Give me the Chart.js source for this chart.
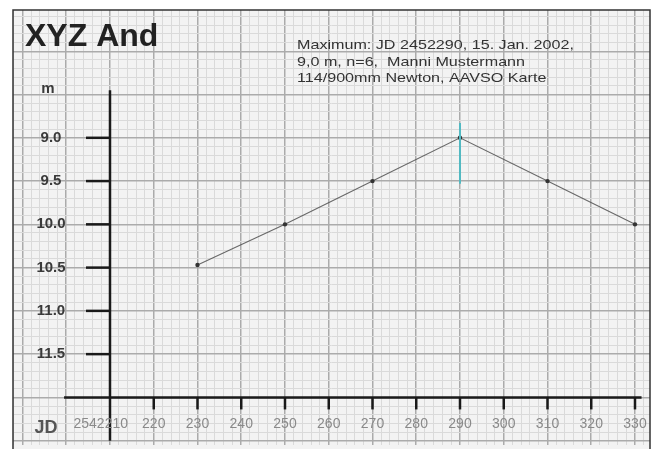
<!DOCTYPE html>
<html>
<head>
<meta charset="utf-8">
<script src="https://cdn.jsdelivr.net/npm/chart.js@4"></script>
<style>
  html, body { margin: 0; padding: 0; background: #ffffff; }
  canvas { display: block; }
</style>
</head>
<body>
<canvas id="lightCurve" width="658" height="449"></canvas>
<script>
// observations (JD - 2452000, magnitude)
const jdDays = [230, 250, 270, 290, 310, 330];
const magnitudes = [10.47, 10.0, 9.5, 9.0, 9.5, 10.0];

// cyan mark at the maximum
const maxDay = 290;
const maxMarkRange = [8.83, 9.53];

// axis ticks drawn on the paper
const magTicks = [9.0, 9.5, 10.0, 10.5, 11.0, 11.5];
const magTickLabels = ["9.0", "9.5", "10.0", "10.5", "11.0", "11.5"];
const jdTicks = [210, 220, 230, 240, 250, 260, 270, 280, 290, 300, 310, 320, 330];
const jdTickLabels = ["2542210", "220", "230", "240", "250", "260", "270", "280", "290", "300", "310", "320", "330"];

const titleText = "XYZ And";
const noteLines = [
  "Maximum: JD 2452290, 15. Jan. 2002,",
  "9,0 m, n=6,  Manni Mustermann",
  "114/900mm Newton, AAVSO Karte",
];

const paperPlugin = {
  id: "paper",
  beforeDraw: (chart) => {
    const ctx = chart.ctx;
    const area = chart.chartArea;
    ctx.save();
    ctx.fillStyle = "#ffffff";
    ctx.fillRect(0, 0, chart.width, chart.height);
    ctx.fillStyle = "#f3f3f3";
    ctx.fillRect(area.left, area.top, area.right - area.left, chart.height - area.top);
    ctx.restore();
  },
  afterDraw: (chart) => {
    const ctx = chart.ctx;
    const area = chart.chartArea;
    const x = chart.scales.x;
    const y = chart.scales.y;
    const axisX = x.getPixelForValue(210);
    const axisY = y.getPixelForValue(12.0);

    ctx.save();
    ctx.strokeStyle = "#1a1a1a";
    ctx.lineCap = "butt";

    // vertical axis
    ctx.lineWidth = 2.5;
    ctx.beginPath();
    ctx.moveTo(axisX, y.getPixelForValue(8.45));
    ctx.lineTo(axisX, y.getPixelForValue(12.5));
    ctx.stroke();

    // horizontal axis
    ctx.beginPath();
    ctx.moveTo(x.getPixelForValue(199.5), axisY);
    ctx.lineTo(x.getPixelForValue(331.5), axisY);
    ctx.stroke();

    // magnitude ticks
    magTicks.forEach((m) => {
      const py = y.getPixelForValue(m);
      ctx.beginPath();
      ctx.moveTo(axisX - 24, py);
      ctx.lineTo(axisX, py);
      ctx.stroke();
    });

    // JD ticks
    jdTicks.slice(1).forEach((d) => {
      const px = x.getPixelForValue(d);
      ctx.beginPath();
      ctx.moveTo(px, axisY);
      ctx.lineTo(px, axisY + 12);
      ctx.stroke();
    });

    // labels
    ctx.fillStyle = "#3a3a3a";
    ctx.font = "bold 15px 'Liberation Sans', Arial, sans-serif";
    ctx.textAlign = "center";
    ctx.textBaseline = "middle";
    magTicks.forEach((m, i) => {
      ctx.fillText(magTickLabels[i], axisX - 59, y.getPixelForValue(m));
    });
    ctx.fillText("m", axisX - 62, y.getPixelForValue(8.44));

    ctx.fillStyle = "#555555";
    ctx.font = "bold 18px 'Liberation Sans', Arial, sans-serif";
    ctx.fillText("JD", axisX - 64, axisY + 31);

    ctx.fillStyle = "#8a8a8a";
    ctx.font = "14px 'Liberation Sans', Arial, sans-serif";
    jdTicks.forEach((d, i) => {
      const px = x.getPixelForValue(d);
      if (i === 0) {
        ctx.textAlign = "right";
        ctx.fillText(jdTickLabels[i], px + 18, axisY + 27);
        ctx.textAlign = "center";
      } else {
        ctx.fillText(jdTickLabels[i], px, axisY + 27);
      }
    });

    // title and note
    ctx.textAlign = "left";
    ctx.textBaseline = "alphabetic";
    ctx.fillStyle = "#222222";
    ctx.font = "bold 32px 'Liberation Sans', Arial, sans-serif";
    ctx.fillText(titleText, area.left + 12, area.top + 36);

    // the note is set in a wide face: stretch it horizontally
    ctx.fillStyle = "#333333";
    ctx.font = "13px 'Liberation Sans', Arial, sans-serif";
    noteLines.forEach((line, i) => {
      ctx.save();
      ctx.translate(297, 49 + i * 16.5);
      ctx.scale(1.24, 1);
      ctx.fillText(line, 0, 0);
      ctx.restore();
    });

    // frame
    ctx.strokeStyle = "#333333";
    ctx.lineWidth = 1.5;
    ctx.beginPath();
    ctx.moveTo(area.left, chart.height + 2);
    ctx.lineTo(area.left, area.top);
    ctx.lineTo(area.right, area.top);
    ctx.lineTo(area.right, chart.height + 2);
    ctx.stroke();
    ctx.restore();
  },
};

const ctxCurve = document.getElementById("lightCurve").getContext("2d");

const curveChart = new Chart(ctxCurve, {
  type: "line",
  data: {
    datasets: [
      {
        data: jdDays.map((d, i) => ({ x: d, y: magnitudes[i] })),
        borderColor: "rgba(80, 80, 80, 0.85)",
        borderWidth: 1.1,
        pointRadius: 2.2,
        pointBackgroundColor: "#333333",
        pointBorderWidth: 0,
        tension: 0,
        order: 2,
      },
      {
        data: maxMarkRange.map((m) => ({ x: maxDay, y: m })),
        borderColor: "#52b9c2",
        borderWidth: 2,
        pointRadius: 0,
        order: 1,
      },
    ],
  },
  options: {
    responsive: false,
    animation: false,
    devicePixelRatio: 1,
    layout: {
      padding: { left: 13, top: 10, right: 8, bottom: 0 },
    },
    plugins: {
      legend: { display: false },
      tooltip: { enabled: false },
    },
    scales: {
      x: {
        type: "linear",
        min: 187.83,
        max: 333.43,
        afterBuildTicks: (scale) => {
          const ticks = [];
          for (let i = Math.ceil(scale.min / 2); i * 2 <= scale.max; i++) {
            ticks.push({ value: i * 2 });
          }
          scale.ticks = ticks;
        },
        ticks: { display: false, autoSkip: false },
        border: { display: false },
        grid: {
          drawTicks: false,
          color: (c) => (c.tick && c.tick.value % 10 === 0 ? "#ababab" : "#dadada"),
          lineWidth: (c) => (c.tick && c.tick.value % 10 === 0 ? 1.5 : 1),
        },
      },
      y: {
        type: "linear",
        reverse: true,
        min: 7.523,
        max: 12.55,
        afterBuildTicks: (scale) => {
          const ticks = [];
          for (let i = Math.ceil(scale.min * 10); i <= Math.floor(scale.max * 10); i++) {
            ticks.push({ value: i / 10 });
          }
          scale.ticks = ticks;
        },
        ticks: { display: false, autoSkip: false },
        border: { display: false },
        grid: {
          drawTicks: false,
          color: (c) => (c.tick && Math.round(c.tick.value * 10) % 5 === 0 ? "#ababab" : "#dadada"),
          lineWidth: (c) => (c.tick && Math.round(c.tick.value * 10) % 5 === 0 ? 1.5 : 1),
        },
      },
    },
  },
  plugins: [paperPlugin],
});
</script>
</body>
</html>
